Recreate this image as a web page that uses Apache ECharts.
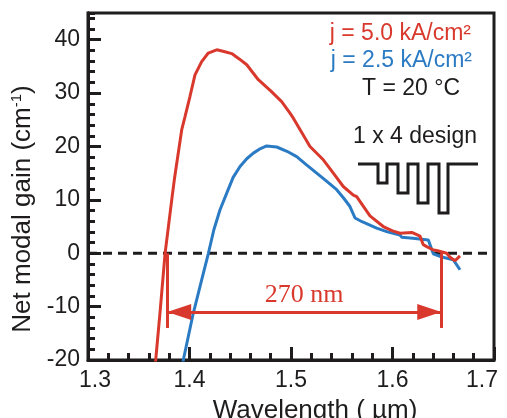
<!DOCTYPE html>
<html>
<head>
<meta charset="utf-8">
<script src="https://cdn.jsdelivr.net/npm/echarts@6/dist/echarts.min.js"></script>
<style>
  html, body { margin: 0; padding: 0; background: #fff; }
  #chart { width: 507px; height: 418px; }
</style>
</head>
<body>
<div id="chart"></div>
<script>
// Net modal gain spectra of the 1 x 4 design at T = 20 °C
const wavelength50 = [1.3645, 1.3667, 1.3709, 1.3759, 1.3825, 1.3850, 1.3923, 1.3956, 1.4005, 1.4054,
  1.4120, 1.4185, 1.4268, 1.4340, 1.4416, 1.4490, 1.4564, 1.4678, 1.4800, 1.4908,
  1.4990, 1.5023, 1.5100, 1.5187, 1.5318, 1.5417, 1.5515, 1.5614, 1.5647, 1.5778,
  1.5909, 1.6000, 1.6074, 1.6190, 1.6271, 1.6303, 1.6337, 1.6402, 1.6435, 1.6534,
  1.6567, 1.6616, 1.6665];
const gain50 = [-24, -20, -11.2, -0.1, 10.0, 13.7, 23.1, 25.6, 29.4, 33.4,
  35.9, 37.5, 38.1, 37.8, 37.4, 36.4, 35.3, 32.5, 30.4, 28.4,
  26.25, 25.3, 22.8, 20.0, 17.5, 15.0, 12.5, 10.9, 10.6, 7.0,
  5.0, 4.2, 3.75, 3.9, 3.2, 1.6, 1.25, 0.6, 0.5, 0.0,
  -0.75, -1.4, -0.5];

const wavelength25 = [1.3918, 1.3939, 1.4037, 1.4120, 1.4185, 1.4240, 1.4300, 1.4367, 1.4430, 1.4498,
  1.4564, 1.4629, 1.4700, 1.4760, 1.4859, 1.4960, 1.5056, 1.5150, 1.5253, 1.5350,
  1.5450, 1.5520, 1.5581, 1.5631, 1.5700, 1.5844, 1.5950, 1.6074, 1.6090, 1.6200,
  1.6353, 1.6402, 1.6468, 1.6600, 1.6665];
const gain25 = [-23, -20, -11.25, -5, -0.1, 4.4, 8.1, 11.25, 14.2, 16.25,
  17.7, 18.75, 19.6, 20.1, 19.9, 19.1, 18.1, 16.6, 15.0, 13.5,
  11.9, 10.3, 8.75, 6.6, 5.9, 4.7, 4.0, 3.4, 3.0, 2.8,
  2.5, -0.1, -0.6, -1.25, -3.1];

// gain bandwidth above transparency (nm) and where it starts (µm)
const bandwidthNm = 270;
const bandStart = 1.378;
const bandArrowGain = -11;
const bandTickBottom = -14;

const xTicks = [1.3, 1.4, 1.5, 1.6, 1.7];
const yTicks = [-20, -10, 0, 10, 20, 30, 40];

const RED = '#d9392c';
const BLUE = '#2b7bc4';
const INK = '#1e1c1d';
const SANS = '"Liberation Sans", Arial, Helvetica, sans-serif';

const bandEnd = +(bandStart + bandwidthNm / 1000).toFixed(4);
const xMin = xTicks[0];
const xMax = xTicks[xTicks.length - 1];

const toPairs = (xs, ys) => xs.map((x, i) => [x, ys[i]]);

const chart = echarts.init(document.getElementById('chart'), null, { renderer: 'canvas' });

const option = {
  animation: false,
  grid: {
    left: 88, right: 13, top: 13, bottom: 58,
    outerBoundsMode: 'none',
    containLabel: false,
    show: true, borderColor: INK, borderWidth: 3, backgroundColor: 'transparent'
  },
  xAxis: {
    type: 'value',
    min: xMin, max: xMax, interval: 0.1,
    axisLine: { onZero: false, lineStyle: { color: INK, width: 3 } },
    axisTick: { inside: true, length: 13, lineStyle: { color: INK, width: 3 } },
    minorTick: { show: true, splitNumber: 5, length: 7, lineStyle: { color: INK, width: 3 } },
    splitLine: { show: false },
    axisLabel: {
      margin: 9,
      formatter: v => {
        const s = v.toFixed(1);
        if (Math.abs(v - xMin) < 1e-9) return '{lo|' + s + '}';
        if (Math.abs(v - xMax) < 1e-9) return '{hi|' + s + '}';
        return '{n|' + s + '}';
      },
      rich: {
        n: { fontFamily: SANS, fontSize: 23, color: INK },
        lo: { fontFamily: SANS, fontSize: 23, color: INK, padding: [0, 0, 0, 14] },
        hi: { fontFamily: SANS, fontSize: 23, color: INK, padding: [0, 24, 0, 0] }
      }
    },
    name: 'Wavelength ( µm)',
    nameLocation: 'middle',
    nameGap: 38,
    nameTextStyle: { fontFamily: SANS, fontSize: 26, color: INK, padding: [0, 0, 0, 48] }
  },
  yAxis: [
    {
      type: 'value',
      min: -20, max: 45, interval: 10,
      axisLine: { show: true, onZero: false, lineStyle: { color: INK, width: 3 } },
      axisTick: { inside: true, length: 13, lineStyle: { color: INK, width: 3 } },
      splitLine: { show: false },
      axisLabel: {
        margin: 8, fontFamily: SANS, fontSize: 23, color: INK,
        showMaxLabel: false,
        formatter: v => (yTicks.indexOf(v) >= 0 ? String(v) : '')
      },
      name: '{t|Net modal gain (cm}{s|-1}{t|)}',
      nameLocation: 'middle',
      nameGap: 46,
      nameTextStyle: {
        padding: [0, 45, 0, 0],
        rich: {
          t: { fontFamily: SANS, fontSize: 26, color: INK },
          s: { fontFamily: SANS, fontSize: 15, color: INK, padding: [0, 0, 12, 0] }
        }
      }
    },
    {
      // minor ticks every 2 cm^-1
      type: 'value',
      min: -20, max: 45, interval: 2,
      position: 'left',
      axisLine: { show: true, onZero: false, lineStyle: { color: INK, width: 3 } },
      axisTick: { show: true, inside: true, length: 7, lineStyle: { color: INK, width: 3 } },
      axisLabel: { show: false },
      splitLine: { show: false }
    }
  ],
  series: [
    {
      // transparency level (zero net gain)
      name: 'zero',
      type: 'line',
      data: [[xMin, 0], [xMax, 0]],
      showSymbol: false,
      silent: true,
      lineStyle: { color: INK, width: 3, type: [9, 6] },
      z: 1
    },
    {
      name: 'j = 5.0 kA/cm²',
      type: 'line',
      data: toPairs(wavelength50, gain50),
      showSymbol: false,
      clip: true,
      lineStyle: { color: RED, width: 3 },
      z: 3,
      markLine: {
        silent: true,
        animation: false,
        symbol: 'none',
        lineStyle: { color: RED, width: 3, type: 'solid' },
        label: { show: false },
        data: [
          [
            { coord: [bandStart, 0] },
            { coord: [bandStart, bandTickBottom] }
          ],
          [
            { coord: [bandEnd, 0] },
            { coord: [bandEnd, bandTickBottom] }
          ],
          [
            {
              coord: [bandStart, bandArrowGain], symbol: 'triangle', symbolSize: [16, 24], symbolOffset: [0, 12],
              label: {
                show: true, position: 'insideMiddleTop', distance: 4,
                formatter: bandwidthNm + ' nm',
                fontFamily: '"Liberation Serif", "Times New Roman", serif',
                fontSize: 26, color: RED
              }
            },
            { coord: [bandEnd, bandArrowGain], symbol: 'triangle', symbolSize: [16, 24], symbolOffset: [0, 12] }
          ]
        ],
        itemStyle: { color: RED }
      }
    },
    {
      name: 'j = 2.5 kA/cm²',
      type: 'line',
      data: toPairs(wavelength25, gain25),
      showSymbol: false,
      clip: true,
      lineStyle: { color: BLUE, width: 3 },
      z: 2
    }
  ],
  graphic: [
    { type: 'text', right: 36, top: 22, style: { text: 'j = 5.0 kA/cm²', font: '23px ' + SANS, fill: RED } },
    { type: 'text', right: 35, top: 49, style: { text: 'j = 2.5 kA/cm²', font: '23px ' + SANS, fill: BLUE } },
    { type: 'text', right: 47, top: 77, style: { text: 'T = 20 °C', font: '23px ' + SANS, fill: INK } },
    { type: 'text', right: 30, top: 125, style: { text: '1 x 4 design', font: '23px ' + SANS, fill: INK } },
    {
      type: 'polyline',
      shape: {
        points: [
          [358, 164], [378, 164], [378, 183], [387, 183], [387, 164],
          [398, 164], [398, 193], [408, 193], [408, 164],
          [418, 164], [418, 203], [428, 203], [428, 164],
          [439, 164], [439, 213], [448, 213], [448, 164], [478, 164]
        ]
      },
      style: { stroke: INK, lineWidth: 3, fill: null, lineJoin: 'miter' }
    }
  ]
};

chart.setOption(option);
</script>
</body>
</html>
